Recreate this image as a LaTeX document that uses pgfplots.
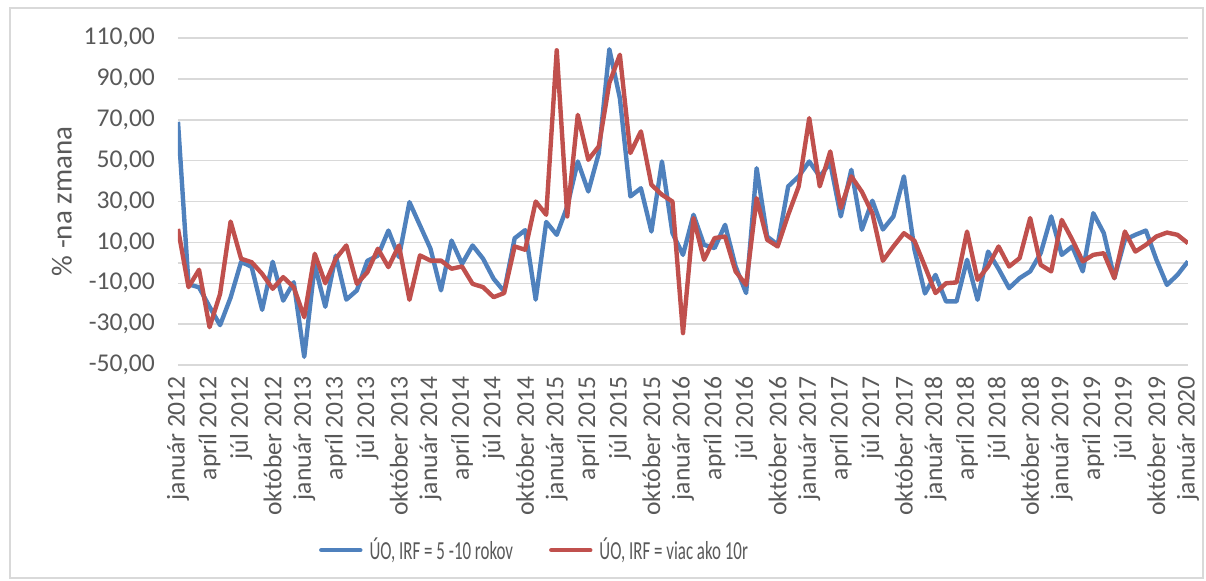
\documentclass[border=0pt]{standalone}
\usepackage{fontspec}
\setmainfont{Carlito}
\newfontfamily\legfont[FakeStretch=0.65]{Carlito}
\usepackage{pgfplots}
\usepackage{pgfplotstable}
\pgfplotsset{compat=1.18}
\definecolor{serblue}{HTML}{4F81BD}
\definecolor{serred}{HTML}{C0504D}
\definecolor{gridgray}{HTML}{D9D9D9}
\definecolor{txtgray}{HTML}{595959}

% month index (0 = januar 2012), UO IRF 5-10 rokov, UO IRF viac ako 10r
\pgfplotstableread{
m  a      b
0  69     16.6
1  -10.5  -11.9
2  -12    -3.4
3  -21.5  -31.5
4  -30.5  -15.2
5  -17    20.2
6  0.5    2
7  -2     0.3
8  -23    -5.4
9  0.5    -12.7
10 -18.5  -7
11 -9.5   -11.9
12 -46    -26.6
13 -1     4.4
14 -21.5  -10
15 3.5    2
16 -18    8.5
17 -13.5  -10.3
18 1      -4.6
19 3.5    6.9
20 15.8   -2.1
21 2.8    8.5
22 29.7   -18.1
23 18.3   3.6
24 6.9    1.1
25 -13.5  1.1
26 10.9   -2.9
27 -0.5   -1.8
28 8.5    -10.3
29 2      -11.9
30 -7.8   -16.8
31 -14    -14.8
32 12     8
33 16     6.4
34 -18    30
35 20     23.5
36 13.7   104
37 27.6   22.7
38 49.6   72.4
39 34.9   50.4
40 53.7   57
41 104.5  88
42 80.6   101.8
43 32.5   53.7
44 36.5   64.3
45 15.3   38.2
46 49.6   33.3
47 14.5   30
48 3.9    -34.4
49 23.5   21.9
50 8.8    1.5
51 7.2    12.1
52 18.6   12.9
53 -1.8   -4.2
54 -14.8  -10.8
55 46.3   31.6
56 12.9   11.3
57 8.8    8
58 37.4   23.5
59 42.3   37.4
60 49.6   70.8
61 42.3   37.4
62 48.8   54.5
63 22.7   26.8
64 45.5   42.3
65 16.2   34.8
66 30.4   24.2
67 16.3   1
68 22.7   8
69 42.3   14.5
70 6.5    10.8
71 -15    -1.8
72 -5.9   -14.8
73 -18.9  -10
74 -18.9  -9.6
75 1.5    15.3
76 -18.1  -8.3
77 5.5    -1.8
78 -3     8
79 -12.4  -1.8
80 -7.5   2.3
81 -4.2   21.9
82 4.7    -1
83 22.7   -4.2
84 3.9    21
85 8      11.3
86 -4.2   0.7
87 24.3   3.9
88 14.5   4.7
89 -7.5   -7.5
90 11.3   15.3
91 13.7   5.5
92 15.8   8.8
93 1.5    12.9
94 -10.8  14.8
95 -5.9   13.7
96 0.7    9.6
}\irfdata

\begin{document}
\begin{tikzpicture}
\useasboundingbox (-89pt,-107.5pt) rectangle (514pt,182.5pt);
\draw[gridgray, line width=0.75pt] (-84pt,-106.5pt) rectangle (512.5pt,178.5pt);
\begin{axis}[
  at={(0,0)}, anchor=south west,
  scale only axis, width=505pt, height=163.5pt,
  xmin=0, xmax=96, ymin=-50, ymax=110,
  axis line style={draw=none},
  ytick={-50,-30,...,110},
  xtick={0,3,...,96},
  xticklabels={január 2012,apríl 2012,júl 2012,október 2012,
    január 2013,apríl 2013,júl 2013,október 2013,
    január 2014,apríl 2014,júl 2014,október 2014,
    január 2015,apríl 2015,júl 2015,október 2015,
    január 2016,apríl 2016,júl 2016,október 2016,
    január 2017,apríl 2017,júl 2017,október 2017,
    január 2018,apríl 2018,júl 2018,október 2018,
    január 2019,apríl 2019,júl 2019,október 2019,január 2020},
  major tick length=0pt,
  ymajorgrids, grid style={gridgray, line width=0.75pt},
  extra y ticks={0}, extra y tick labels={},
  extra y tick style={grid=major, grid style={gridgray, line width=0.75pt}},
  yticklabel style={font=\fontsize{12.8}{14}\selectfont, text=txtgray,
    /pgf/number format/.cd, fixed, fixed zerofill, precision=2, use comma,
    assume math mode=true},
  xticklabel style={font=\fontsize{12.8}{14}\selectfont, text=txtgray,
    rotate=90, anchor=east},
  yticklabel shift=8pt,
  xticklabel shift=2pt,
  ylabel={\% -na zmana},
  ylabel style={at={(rel axis cs:-0.115,0.5)}, anchor=center,
    font=\fontsize{14.5}{16}\selectfont, text=txtgray},
  legend columns=2,
  legend style={at={(0.354,-0.566)}, anchor=center, draw=none, fill=none,
    font=\legfont\fontsize{13}{15}\selectfont, text=txtgray,
    /tikz/column 1/.style={column sep=1.5pt},
    /tikz/column 2/.style={column sep=16pt},
    /tikz/column 3/.style={column sep=1.5pt}},
  legend cell align=left,
  legend image code/.code={\draw[#1, line cap=round] (0pt,0pt) -- (19.5pt,0pt);},
  every axis plot/.append style={line width=2.2pt, line join=round, no marks},
]
\addplot[serblue] table[x=m, y=a] {\irfdata};
\addlegendentry{ÚO, IRF = 5 -10 rokov}
\addplot[serred] table[x=m, y=b] {\irfdata};
\addlegendentry{ÚO, IRF = viac ako 10r}
\end{axis}
\end{tikzpicture}
\end{document}
